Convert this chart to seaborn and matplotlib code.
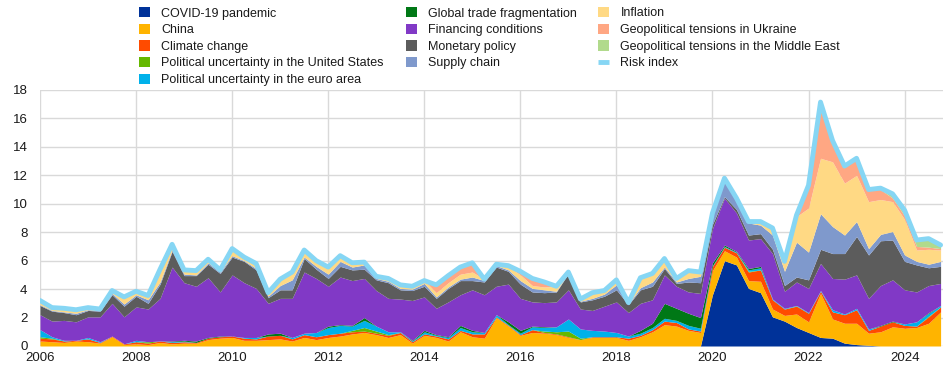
import numpy as np
import pandas as pd
import matplotlib
matplotlib.use("Agg")
from matplotlib import pyplot as plt
from matplotlib.patches import Patch
from matplotlib.lines import Line2D
import seaborn as sns

# quarterly observations, 2006Q1 - 2024Q4
quarters = pd.period_range("2006Q1", "2024Q4", freq="Q")

covid = [
    0, 0, 0, 0, 0, 0, 0, 0,
    0, 0, 0, 0, 0, 0, 0, 0,
    0, 0, 0, 0, 0, 0, 0, 0,
    0, 0, 0, 0, 0, 0, 0, 0,
    0, 0, 0, 0, 0, 0, 0, 0,
    0, 0, 0, 0, 0, 0, 0, 0,
    0, 0, 0, 0, 0, 0, 0, 0,
    3.6, 6.0, 5.7, 4.05, 3.75, 2.05, 1.75, 1.3,
    0.95, 0.6, 0.55, 0.2, 0.1, 0.05, 0, 0,
    0, 0, 0, 0,
]
china = [
    0.35, 0.3, 0.25, 0.35, 0.3, 0.2, 0.65, 0.1,
    0.15, 0.1, 0.25, 0.15, 0.2, 0.2, 0.45, 0.55,
    0.6, 0.4, 0.4, 0.45, 0.5, 0.35, 0.6, 0.45,
    0.6, 0.7, 0.85, 0.95, 0.8, 0.6, 0.8, 0.2,
    0.75, 0.6, 0.35, 1.0, 0.65, 0.55, 2.0, 1.4,
    0.75, 0.95, 0.9, 0.8, 0.6, 0.45, 0.6, 0.6,
    0.6, 0.4, 0.65, 1.0, 1.5, 1.4, 1.1, 0.95,
    1.7, 0.7, 0.55, 0.55, 0.8, 0.55, 0.4, 0.95,
    0.75, 3.1, 1.35, 1.4, 1.5, 0.85, 1.0, 1.35,
    1.25, 1.3, 1.6, 2.4,
]
climate = [
    0.2, 0.2, 0.1, 0.05, 0.2, 0.05, 0.05, 0.05,
    0.15, 0.1, 0.1, 0.1, 0.1, 0.05, 0.1, 0.1,
    0.1, 0.15, 0.1, 0.25, 0.25, 0.15, 0.2, 0.2,
    0.2, 0.2, 0.15, 0.1, 0.1, 0.15, 0.15, 0.1,
    0.1, 0.1, 0.15, 0.1, 0.2, 0.3, 0.05, 0.05,
    0.05, 0.2, 0.05, 0.05, 0.05, 0.0, 0.05, 0.05,
    0.05, 0.15, 0.1, 0.15, 0.25, 0.25, 0.1, 0.1,
    0.3, 0.25, 0.3, 0.6, 0.8, 0.65, 0.45, 0.55,
    0.6, 0.15, 0.5, 0.6, 0.95, 0.2, 0.4, 0.35,
    0.2, 0.1, 0.45, 0.35,
]
pol_us = [
    0.1, 0.05, 0, 0, 0, 0, 0, 0,
    0, 0.1, 0, 0, 0, 0, 0, 0,
    0, 0, 0, 0, 0, 0, 0, 0,
    0, 0, 0.1, 0.25, 0.15, 0.05, 0, 0,
    0, 0, 0, 0, 0, 0, 0, 0,
    0, 0, 0.1, 0.15, 0.4, 0.1, 0, 0,
    0, 0, 0, 0, 0, 0, 0, 0,
    0, 0, 0, 0.05, 0, 0, 0, 0.02,
    0, 0, 0, 0, 0, 0, 0, 0,
    0, 0, 0.05, 0,
]
pol_ea = [
    0.5, 0.1, 0.05, 0, 0.1, 0.05, 0, 0,
    0.1, 0, 0, 0.05, 0.05, 0, 0, 0,
    0, 0.05, 0.1, 0, 0, 0.1, 0.1, 0.3,
    0.5, 0.55, 0.3, 0.5, 0.35, 0.2, 0.05, 0.05,
    0.15, 0.05, 0.1, 0.2, 0.15, 0.1, 0.15, 0.05,
    0.1, 0.2, 0.25, 0.35, 0.85, 0.65, 0.45, 0.4,
    0.3, 0.15, 0.15, 0.15, 0.2, 0.15, 0.25, 0.2,
    0.05, 0.05, 0.05, 0.1, 0.15, 0.05, 0.05, 0.03,
    0.05, 0.05, 0.15, 0.05, 0.1, 0.1, 0, 0,
    0.1, 0.3, 0.2, 0.1,
]
trade = [
    0, 0, 0, 0, 0, 0, 0, 0,
    0, 0, 0, 0.05, 0.05, 0.1, 0.05, 0.05,
    0, 0, 0, 0.15, 0.15, 0, 0, 0,
    0.1, 0.05, 0.05, 0.2, 0, 0, 0, 0.05,
    0.1, 0.05, 0.05, 0.15, 0.1, 0, 0, 0.2,
    0.2, 0.05, 0.05, 0, 0, 0, 0, 0,
    0, 0, 0.2, 0.3, 1.05, 0.85, 0.85, 0.75,
    0.2, 0.1, 0.05, 0.1, 0.1, 0, 0, 0,
    0, 0, 0, 0, 0, 0, 0.05, 0.05,
    0, 0, 0.05, 0,
]
financing = [
    1.05, 1.1, 1.4, 1.3, 1.45, 1.75, 2.3, 1.9,
    2.35, 2.3, 3.0, 5.2, 4.05, 3.85, 4.2, 3.1,
    4.3, 3.85, 3.45, 2.15, 2.45, 2.75, 4.3, 3.8,
    2.8, 3.35, 3.15, 2.75, 2.5, 2.35, 2.3, 2.8,
    2.35, 1.85, 2.45, 2.15, 2.85, 2.65, 2.0, 2.65,
    2.25, 1.7, 1.7, 1.75, 2.05, 1.4, 1.4, 1.75,
    2.15, 1.65, 1.9, 1.65, 2.0, 1.55, 1.5, 1.7,
    2.4, 3.3, 2.7, 2.0, 1.95, 3.2, 1.2, 1.65,
    1.7, 1.9, 2.2, 2.45, 2.35, 2.15, 2.8, 2.9,
    2.4, 2.1, 1.9, 1.55,
]
monetary = [
    0.65, 0.7, 0.55, 0.5, 0.45, 0.4, 0.6, 0.75,
    0.75, 0.4, 1.0, 1.1, 0.5, 0.75, 0.95, 1.3,
    1.25, 1.5, 1.3, 0.4, 0.6, 0.6, 0.95, 0.65,
    0.55, 0.75, 0.75, 0.65, 0.75, 1.1, 0.65, 0.7,
    0.75, 0.7, 0.95, 1.0, 0.65, 0.9, 1.35, 0.9,
    1.0, 0.7, 0.7, 0.7, 1.15, 0.5, 0.75, 0.7,
    0.85, 0.55, 0.95, 0.95, 0.45, 0.2, 0.7, 0.75,
    0.3, 0.1, 0.25, 0.35, 0.35, 0.3, 0.4, 0.35,
    0.6, 1.0, 1.75, 1.8, 2.7, 3.05, 3.15, 2.8,
    2.0, 1.9, 1.25, 1.2,
]
supply = [
    0.05, 0.05, 0.05, 0.1, 0.05, 0.05, 0.1, 0.15,
    0.1, 0.25, 0.15, 0.1, 0.1, 0.05, 0.1, 0.1,
    0.1, 0.05, 0.1, 0.1, 0.3, 0.7, 0.1, 0.2,
    0.3, 0.35, 0.2, 0.3, 0.1, 0.1, 0.1, 0.1,
    0.2, 0.1, 0.1, 0.1, 0.25, 0.1, 0.1, 0.1,
    0.25, 0.25, 0.2, 0.05, 0.05, 0.05, 0.1, 0.15,
    0.35, 0.05, 0.15, 0.3, 0.1, 0.1, 0.25, 0.45,
    0.75, 1.25, 0.75, 0.85, 0.6, 1.0, 1.0, 2.45,
    1.95, 2.5, 1.9, 1.3, 1.05, 0.45, 0.45, 0.6,
    0.45, 0.25, 0.25, 0.35,
]
inflation = [
    0.3, 0.2, 0.25, 0.25, 0.15, 0.1, 0.2, 0.5,
    0.25, 0.3, 0.9, 0.4, 0.3, 0.3, 0.25, 0.15,
    0.5, 0.25, 0.35, 0.25, 0.45, 0.55, 0.5, 0.4,
    0.5, 0.4, 0.3, 0.2, 0.15, 0.2, 0.25, 0.2,
    0.2, 0.3, 0.3, 0.35, 0.35, 0.1, 0.1, 0.25,
    0.4, 0.2, 0.2, 0.35, 0.05, 0.15, 0.4, 0.25,
    0.35, 0.1, 0.7, 0.6, 0.6, 0.25, 0.55, 0.3,
    0.05, 0.05, 0.05, 0.1, 0.25, 0.5, 0.7, 1.8,
    3.1, 3.9, 4.55, 3.65, 3.25, 3.3, 2.45, 2.1,
    2.5, 0.8, 1.05, 0.8,
]
ukraine = [
    0, 0, 0, 0, 0, 0, 0, 0,
    0, 0, 0, 0, 0, 0, 0, 0,
    0, 0, 0, 0, 0, 0, 0, 0,
    0, 0, 0, 0, 0, 0, 0, 0,
    0, 0.55, 0.5, 0.5, 0.65, 0, 0, 0,
    0.15, 0.5, 0.35, 0, 0, 0, 0, 0,
    0, 0, 0, 0, 0, 0, 0, 0,
    0, 0, 0, 0, 0, 0, 0, 0.1,
    1.6, 3.95, 1.5, 1.2, 1.2, 0.85, 0.7, 0.25,
    0.25, 0.25, 0.15, 0.1,
]
mideast = [
    0, 0, 0, 0, 0, 0, 0, 0,
    0, 0, 0, 0, 0, 0, 0, 0,
    0, 0, 0, 0, 0, 0, 0, 0,
    0, 0, 0, 0, 0, 0, 0, 0,
    0, 0, 0, 0, 0, 0, 0, 0.05,
    0.1, 0, 0, 0, 0, 0, 0, 0,
    0, 0, 0, 0, 0, 0, 0, 0,
    0, 0, 0, 0, 0, 0, 0, 0,
    0, 0, 0, 0, 0, 0, 0.1, 0.3,
    0.4, 0.45, 0.6, 0.25,
]

labels = [
    "COVID-19 pandemic", "China", "Climate change",
    "Political uncertainty in the United States",
    "Political uncertainty in the euro area",
    "Global trade fragmentation", "Financing conditions", "Monetary policy",
    "Supply chain", "Inflation", "Geopolitical tensions in Ukraine",
    "Geopolitical tensions in the Middle East",
]
colors = [
    "#003299", "#FFB400", "#FF4B00", "#65B800", "#00B1EA", "#007816",
    "#8139C6", "#5C5C5C", "#7F99CC", "#FFD984", "#FFA783", "#B1DA8C",
]
risk_color = "#86D6F4"

series = [covid, china, climate, pol_us, pol_ea, trade, financing,
          monetary, supply, inflation, ukraine, mideast]
years = quarters.year + (quarters.quarter - 1) / 4
df = pd.DataFrame(dict(zip(labels, series)), index=years)
df["Risk index"] = df[labels].sum(axis=1)

sns.set_theme(style="whitegrid")
plt.rcParams["font.family"] = ["Liberation Sans", "DejaVu Sans"]

fig = plt.figure(figsize=(9.45, 3.72), dpi=100)
ax = fig.add_axes([40 / 945, 1 - 346 / 372, 903 / 945, 256 / 372])

ax.stackplot(df.index, *[df[c] for c in labels], colors=colors, lw=0)
sns.lineplot(x=df.index, y=df["Risk index"], color=risk_color, lw=3.5, ax=ax,
             solid_joinstyle="round")

ax.set_xlim(2006, 2024.8)
ax.set_ylim(0, 18)
ax.set_xticks(range(2006, 2025, 2))
ax.set_yticks(range(0, 19, 2))
ax.set_xlabel("")
ax.set_ylabel("")
ax.grid(True, color="#D9D9D9", lw=1)
ax.set_axisbelow(True)
for s in ax.spines.values():
    s.set_visible(False)
ax.tick_params(axis="both", length=0, labelsize=9.5, labelcolor="#1A1A1A")
ax.tick_params(axis="y", pad=9)
ax.tick_params(axis="x", pad=4)

# legend in three columns laid out like the original
handles = [Patch(facecolor=c, edgecolor="none") for c in colors]
handles.append(Line2D([], [], color=risk_color, lw=3.5, solid_capstyle="butt"))
all_labels = labels + ["Risk index"]
groups = [(0, 5, 134), (5, 9, 401), (9, 13, 593)]
for a, b, xpix in groups:
    leg = fig.legend(handles[a:b], all_labels[a:b], loc="upper left",
                     bbox_to_anchor=(xpix / 945, 1 - 2 / 372), frameon=False,
                     fontsize=9, handlelength=0.9, handleheight=0.9,
                     handletextpad=0.9, labelspacing=0.33, borderaxespad=0)
    for t in leg.get_texts():
        t.set_color("#1A1A1A")

fig.savefig("out.png", dpi=100)
